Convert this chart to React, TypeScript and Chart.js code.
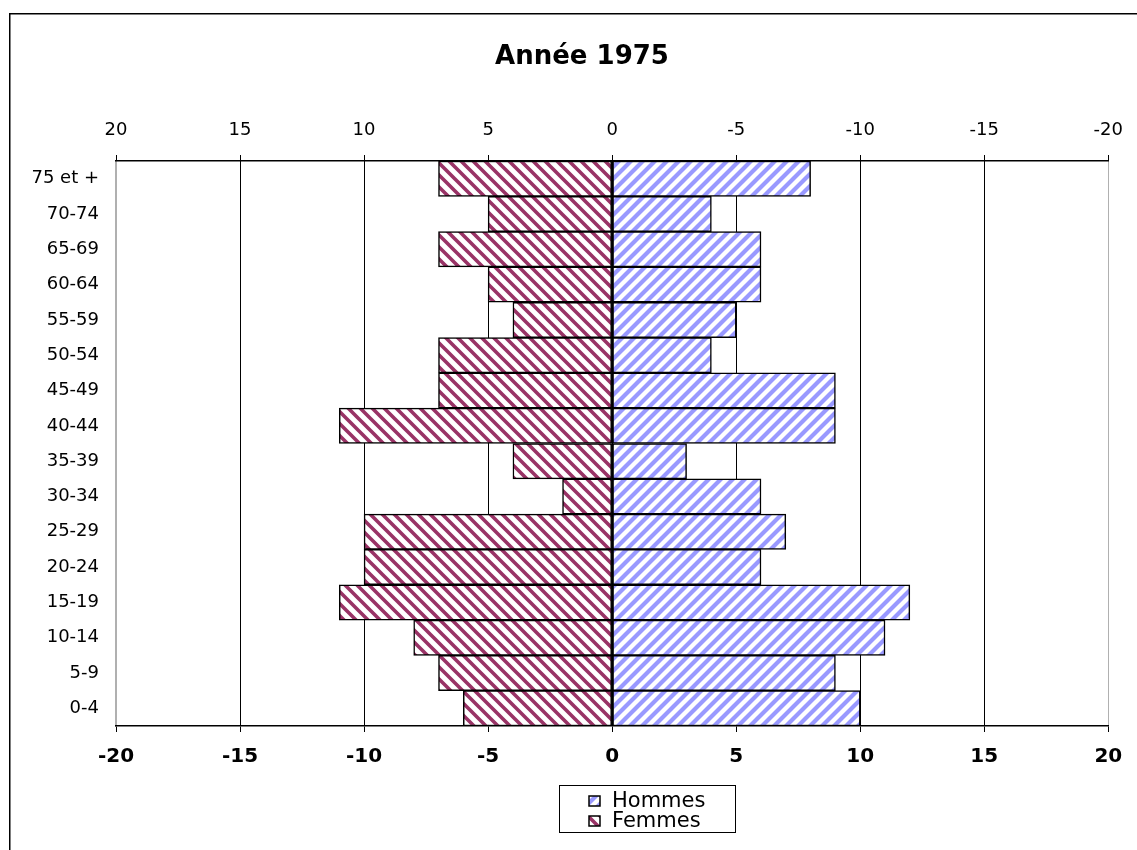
import React, { useEffect, useRef } from 'react';
import { Chart, registerables } from 'chart.js';

Chart.register(...registerables);

const chartTitle = 'Année 1975';
const ageGroups = ['0-4', '5-9', '10-14', '15-19', '20-24', '25-29', '30-34', '35-39', '40-44', '45-49', '50-54', '55-59', '60-64', '65-69', '70-74', '75 et +'];
const hommes = [10, 9, 11, 12, 6, 7, 6, 3, 9, 9, 4, 5, 6, 6, 4, 8];
const femmes = [-6, -7, -8, -11, -10, -10, -2, -4, -11, -7, -7, -4, -5, -7, -5, -7];
const seriesNames = ['Hommes', 'Femmes'];
const axisMin = -20;
const axisMax = 20;
const axisStep = 5;

const FONT = '"DejaVu Sans", "Liberation Sans", Arial, sans-serif';
const HOMMES_COLOR = '#9999FF';
const FEMMES_COLOR = '#993366';

function makeStripe(ctx: CanvasRenderingContext2D, color: string, dir: 'up' | 'down', width: number) {
  const s = 12;
  const c = document.createElement('canvas');
  c.width = s;
  c.height = s;
  const g = c.getContext('2d')!;
  g.fillStyle = '#ffffff';
  g.fillRect(0, 0, s, s);
  g.strokeStyle = color;
  g.lineWidth = width;
  g.beginPath();
  for (const k of [-s, 0, s]) {
    if (dir === 'up') {
      g.moveTo(k - 2, s + 2);
      g.lineTo(k + s + 2, -2);
    } else {
      g.moveTo(k - 2, -2);
      g.lineTo(k + s + 2, s + 2);
    }
  }
  g.stroke();
  return ctx.createPattern(c, 'repeat')!;
}

export default function App() {
  const ref = useRef<HTMLCanvasElement | null>(null);

  useEffect(() => {
    const canvas = ref.current!;
    const ctx = canvas.getContext('2d')!;
    const patH = makeStripe(ctx, HOMMES_COLOR, 'up', 4.2);
    const patF = makeStripe(ctx, FEMMES_COLOR, 'down', 3.6);

    const decor = {
      id: 'decor',
      beforeDraw(chart: any) {
        const c = chart.ctx;
        c.save();
        c.fillStyle = '#ffffff';
        c.fillRect(0, 0, chart.width, chart.height);
        c.strokeStyle = '#000000';
        c.lineWidth = 1.5;
        c.strokeRect(9.75, 13.75, 3000, 3000);
        c.restore();
      },
      afterDraw(chart: any) {
        const c = chart.ctx;
        c.save();
        // title
        c.fillStyle = '#000';
        c.font = `bold 26px ${FONT}`;
        c.textAlign = 'center';
        c.textBaseline = 'middle';
        c.fillText(chartTitle, 582, 57);
        // legend
        c.strokeStyle = '#000';
        c.lineWidth = 1;
        c.strokeRect(559.5, 785.5, 176, 47);
        const items = [
          { label: seriesNames[0], pat: patH, y: 801 },
          { label: seriesNames[1], pat: patF, y: 821 },
        ];
        for (const it of items) {
          c.fillStyle = it.pat;
          c.fillRect(589, it.y - 5, 11, 10);
          c.lineWidth = 1.5;
          c.strokeRect(589, it.y - 5, 11, 10);
          c.fillStyle = '#000';
          c.font = `21px ${FONT}`;
          c.textAlign = 'left';
          c.textBaseline = 'middle';
          c.fillText(it.label, 612, it.y + 1);
        }
        c.restore();
      },
    };

    const chart = new Chart(canvas, {
      type: 'bar',
      data: {
        labels: ageGroups,
        datasets: [
          {
            label: seriesNames[0],
            data: hommes,
            backgroundColor: patH,
            borderColor: '#000',
            borderWidth: 1.5,
            borderSkipped: false,
            barPercentage: 1,
            categoryPercentage: 1,
            xAxisID: 'x',
            yAxisID: 'y',
          },
          {
            label: seriesNames[1],
            data: femmes,
            backgroundColor: patF,
            borderColor: '#000',
            borderWidth: 1.5,
            borderSkipped: false,
            barPercentage: 1,
            categoryPercentage: 1,
            xAxisID: 'x',
            yAxisID: 'y',
          },
        ],
      },
      options: {
        indexAxis: 'y',
        responsive: false,
        animation: false,
        layout: { padding: { left: 0, right: 28, top: 0, bottom: 0 } },
        plugins: {
          legend: { display: false },
          title: { display: false },
          tooltip: { enabled: false },
        },
        scales: {
          y: {
            type: 'category',
            stacked: true,
            reverse: true,
            position: 'left',
            grid: { display: false, drawTicks: false },
            border: { display: true, color: '#b0b0b0', width: 1.5 },
            ticks: { color: '#000', font: { family: FONT, size: 18 }, padding: 17 },
            afterFit(scale: any) {
              scale.width = 116;
            },
          },
          x: {
            type: 'linear',
            stacked: true,
            position: 'bottom',
            min: axisMin,
            max: axisMax,
            grid: {
              color: (c: any) => (c.tick && Math.abs(c.tick.value) === axisMax ? '#b0b0b0' : '#000000'),
              lineWidth: 1,
              drawTicks: true,
              tickLength: 6,
              tickColor: '#000',
            },
            border: { display: true, color: '#000', width: 1.5 },
            ticks: {
              stepSize: axisStep,
              autoSkip: false,
              color: '#000',
              font: { family: FONT, size: 20, weight: 'bold' },
              padding: 13,
            },
            afterFit(scale: any) {
              scale.height = 124;
            },
          },
          x2: {
            type: 'linear',
            position: 'top',
            min: axisMin,
            max: axisMax,
            grid: {
              drawOnChartArea: false,
              drawTicks: true,
              tickLength: 6,
              tickColor: '#000',
              color: '#000',
            },
            border: { display: true, color: '#000', width: 1.5 },
            ticks: {
              stepSize: axisStep,
              autoSkip: false,
              color: '#000',
              font: { family: FONT, size: 18 },
              padding: 14,
              callback: (v: any) => (Number(v) === 0 ? '0' : String(-Number(v))),
            },
            afterFit(scale: any) {
              scale.height = 161;
            },
          },
        },
      },
      plugins: [decor],
    });
    return () => chart.destroy();
  }, []);

  return (
    <div style={{ position: 'absolute', left: 0, top: 0, width: 1137, height: 850 }}>
      <canvas ref={ref} width={1137} height={850} style={{ display: 'block' }} />
    </div>
  );
}
